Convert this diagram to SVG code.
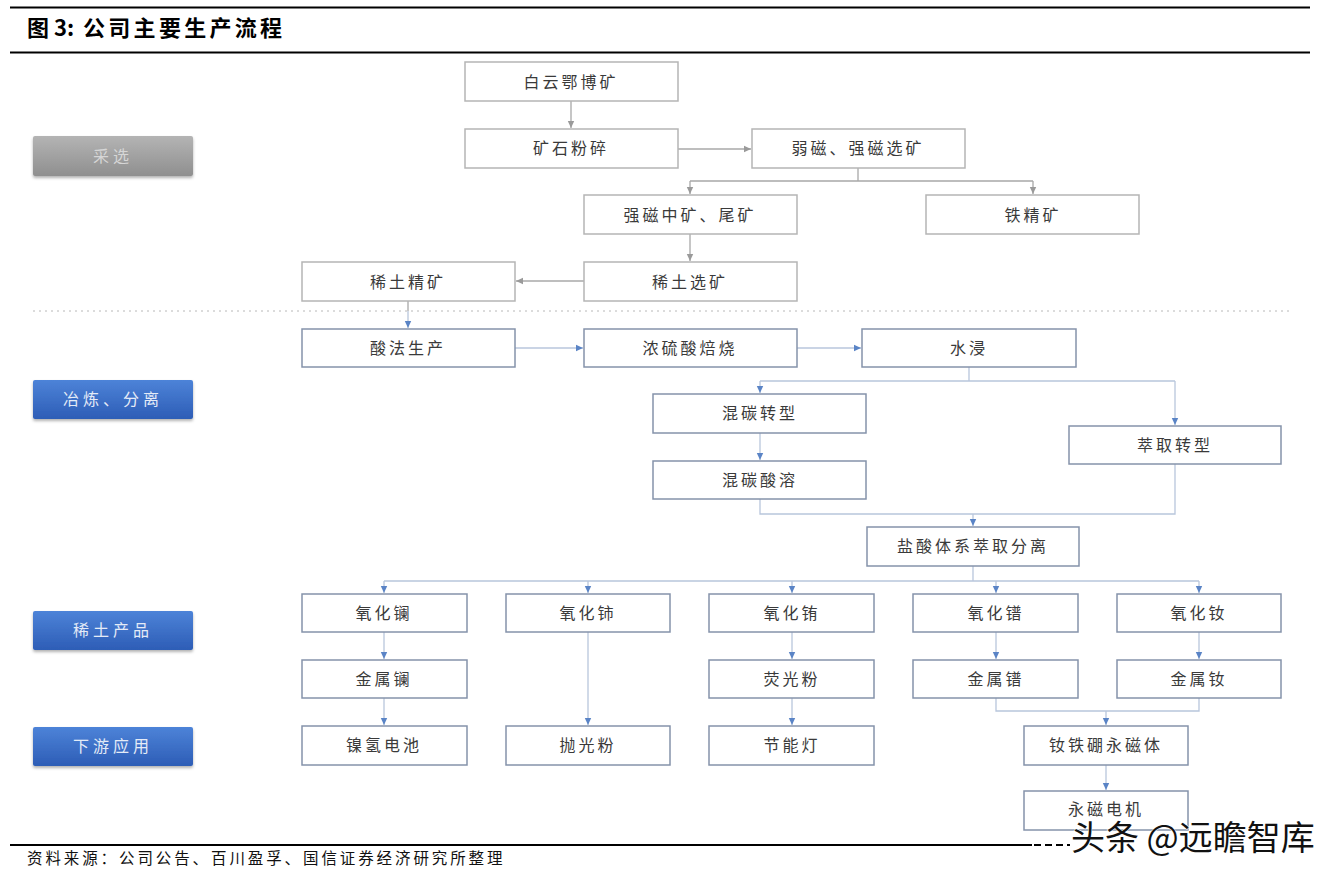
<svg xmlns="http://www.w3.org/2000/svg" width="1343" height="881" viewBox="0 0 1343 881">
<style>
.t{font-family:"Noto Sans CJK SC","Noto Sans",sans-serif;font-size:16px;fill:#3a3a3a;text-anchor:middle;letter-spacing:3px}
.bu{fill:#fff;stroke:#b5b5b5;stroke-width:1.5}
.bl{fill:#fff;stroke:#8593aa;stroke-width:1.5}
.cu{fill:none;stroke:#a8a8a8;stroke-width:1.3}
.cl{fill:none;stroke:#b8c6dc;stroke-width:1.3}
.lt{font-family:"Noto Sans CJK SC","Noto Sans",sans-serif;font-size:16px;fill:#e4ebf7;text-anchor:middle;letter-spacing:4px}
</style>
<defs>
<marker id="ag" markerWidth="8" markerHeight="8" refX="7" refY="4" orient="auto" markerUnits="userSpaceOnUse">
<path d="M0,0.8 L7,4 L0,7.2 z" fill="#9a9a9a"/>
</marker>
<marker id="ab" markerWidth="8" markerHeight="8" refX="7" refY="4" orient="auto" markerUnits="userSpaceOnUse">
<path d="M0,0.8 L7,4 L0,7.2 z" fill="#5a84c6"/>
</marker>
<linearGradient id="gb" x1="0" y1="0" x2="0" y2="1">
<stop offset="0" stop-color="#4d83d8"/>
<stop offset="1" stop-color="#2d5db6"/>
</linearGradient>
<linearGradient id="gg" x1="0" y1="0" x2="0" y2="1">
<stop offset="0" stop-color="#b4b4b4"/>
<stop offset="1" stop-color="#8f8f8f"/>
</linearGradient>
<filter id="sh" x="-10%" y="-20%" width="120%" height="150%">
<feDropShadow dx="0" dy="2" stdDeviation="1.5" flood-color="#000" flood-opacity="0.3"/>
</filter>
</defs>
<rect width="1343" height="881" fill="#fff"/>
<!-- header -->
<line x1="10" y1="7.5" x2="1310" y2="7.5" stroke="#000" stroke-width="2"/>
<text x="27" y="36" style="font-family:'Noto Sans CJK SC','Noto Sans',sans-serif;font-size:22px;font-weight:bold;fill:#000">图 3:<tspan x="83" style="letter-spacing:3.3px">公司主要生产流程</tspan></text>
<line x1="10" y1="52.5" x2="1310" y2="52.5" stroke="#000" stroke-width="2"/>
<!-- dotted separator -->
<line x1="33" y1="311" x2="1293" y2="311" stroke="#b8b8b8" stroke-width="1" stroke-dasharray="2,4"/>
<!-- left labels -->
<g id="label-caixuan"><rect x="33" y="136" width="160" height="40" rx="2" fill="url(#gg)" filter="url(#sh)"/><text class="lt" x="113" y="162" style="fill:#d6d6d6">采选</text></g>
<g id="label-yelian"><rect x="33" y="380" width="160" height="39" rx="2" fill="url(#gb)" filter="url(#sh)"/><text class="lt" x="113" y="405">冶炼、分离</text></g>
<g id="label-chanpin"><rect x="33" y="611" width="160" height="39" rx="2" fill="url(#gb)" filter="url(#sh)"/><text class="lt" x="113" y="636">稀土产品</text></g>
<g id="label-xiayou"><rect x="33" y="727" width="160" height="39" rx="2" fill="url(#gb)" filter="url(#sh)"/><text class="lt" x="113" y="752">下游应用</text></g>
<!-- connectors -->
<g id="connectors">
<path class="cu" d="M571,101 V128" marker-end="url(#ag)"/>
<path class="cu" d="M678,149 H751" marker-end="url(#ag)"/>
<path class="cu" d="M858,168 V181 M690,181 H1033"/>
<path class="cu" d="M690,181 V194" marker-end="url(#ag)"/>
<path class="cu" d="M1033,181 V194" marker-end="url(#ag)"/>
<path class="cu" d="M690,234 V261" marker-end="url(#ag)"/>
<path class="cu" d="M584,281 H516" marker-end="url(#ag)"/>
<path class="cu" d="M408,301 V311"/>
<path class="cl" d="M408,311 V328" marker-end="url(#ab)"/>
<path class="cl" d="M515,348 H583" marker-end="url(#ab)"/>
<path class="cl" d="M797,348 H861" marker-end="url(#ab)"/>
<path class="cl" d="M969,367 V381 M760,381 H1175"/>
<path class="cl" d="M760,381 V393" marker-end="url(#ab)"/>
<path class="cl" d="M1175,381 V425" marker-end="url(#ab)"/>
<path class="cl" d="M760,433 V460" marker-end="url(#ab)"/>
<path class="cl" d="M760,499 V514 H1175 V464"/>
<path class="cl" d="M973,514 V526" marker-end="url(#ab)"/>
<path class="cl" d="M973,566 V581 M384,581 H1199"/>
<path class="cl" d="M384,581 V593" marker-end="url(#ab)"/>
<path class="cl" d="M588,581 V593" marker-end="url(#ab)"/>
<path class="cl" d="M792,581 V593" marker-end="url(#ab)"/>
<path class="cl" d="M996,581 V593" marker-end="url(#ab)"/>
<path class="cl" d="M1199,581 V593" marker-end="url(#ab)"/>
<path class="cl" d="M384,632 V659" marker-end="url(#ab)"/>
<path class="cl" d="M384,698 V725" marker-end="url(#ab)"/>
<path class="cl" d="M588,632 V725" marker-end="url(#ab)"/>
<path class="cl" d="M792,632 V659" marker-end="url(#ab)"/>
<path class="cl" d="M792,698 V725" marker-end="url(#ab)"/>
<path class="cl" d="M996,632 V659" marker-end="url(#ab)"/>
<path class="cl" d="M1199,632 V659" marker-end="url(#ab)"/>
<path class="cl" d="M996,698 V711 H1199 V698"/>
<path class="cl" d="M1106,711 V725" marker-end="url(#ab)"/>
<path class="cl" d="M1106,765 V790" marker-end="url(#ab)"/>
</g>
<!-- upper nodes -->
<g id="n-baiyun"><rect class="bu" x="465" y="62" width="213" height="39"/><text class="t" x="571" y="88">白云鄂博矿</text></g>
<g id="n-suisui"><rect class="bu" x="465" y="129" width="213" height="39"/><text class="t" x="571" y="154">矿石粉碎</text></g>
<g id="n-ruoci"><rect class="bu" x="752" y="129" width="213" height="39"/><text class="t" x="858" y="154">弱磁、强磁选矿</text></g>
<g id="n-zhongkuang"><rect class="bu" x="584" y="195" width="213" height="39"/><text class="t" x="690" y="221">强磁中矿、尾矿</text></g>
<g id="n-tiejing"><rect class="bu" x="926" y="195" width="213" height="39"/><text class="t" x="1033" y="221">铁精矿</text></g>
<g id="n-xitujing"><rect class="bu" x="302" y="262" width="213" height="39"/><text class="t" x="408" y="288">稀土精矿</text></g>
<g id="n-xituxuan"><rect class="bu" x="584" y="262" width="213" height="39"/><text class="t" x="690" y="288">稀土选矿</text></g>
<!-- middle nodes -->
<g id="n-suanfa"><rect class="bl" x="302" y="329" width="213" height="38"/><text class="t" x="408" y="354">酸法生产</text></g>
<g id="n-beishao"><rect class="bl" x="584" y="329" width="213" height="38"/><text class="t" x="690" y="354">浓硫酸焙烧</text></g>
<g id="n-shuijin"><rect class="bl" x="862" y="329" width="214" height="38"/><text class="t" x="969" y="354">水浸</text></g>
<g id="n-hunzhuan"><rect class="bl" x="653" y="394" width="213" height="39"/><text class="t" x="760" y="419">混碳转型</text></g>
<g id="n-cuizhuan"><rect class="bl" x="1069" y="426" width="212" height="38"/><text class="t" x="1175" y="451">萃取转型</text></g>
<g id="n-hunsuan"><rect class="bl" x="653" y="461" width="213" height="38"/><text class="t" x="760" y="486">混碳酸溶</text></g>
<g id="n-yansuan"><rect class="bl" x="867" y="527" width="212" height="39"/><text class="t" x="973" y="552">盐酸体系萃取分离</text></g>
<!-- products -->
<g id="n-ylan"><rect class="bl" x="302" y="594" width="165" height="38"/><text class="t" x="384" y="619">氧化镧</text></g>
<g id="n-yshi"><rect class="bl" x="506" y="594" width="164" height="38"/><text class="t" x="588" y="619">氧化铈</text></g>
<g id="n-yyou"><rect class="bl" x="709" y="594" width="165" height="38"/><text class="t" x="792" y="619">氧化铕</text></g>
<g id="n-ypu"><rect class="bl" x="913" y="594" width="165" height="38"/><text class="t" x="996" y="619">氧化镨</text></g>
<g id="n-ynv"><rect class="bl" x="1117" y="594" width="164" height="38"/><text class="t" x="1199" y="619">氧化钕</text></g>
<g id="n-jlan"><rect class="bl" x="302" y="660" width="165" height="38"/><text class="t" x="384" y="685">金属镧</text></g>
<g id="n-yingguang"><rect class="bl" x="709" y="660" width="165" height="38"/><text class="t" x="792" y="685">荧光粉</text></g>
<g id="n-jpu"><rect class="bl" x="913" y="660" width="165" height="38"/><text class="t" x="996" y="685">金属镨</text></g>
<g id="n-jnv"><rect class="bl" x="1117" y="660" width="164" height="38"/><text class="t" x="1199" y="685">金属钕</text></g>
<!-- applications -->
<g id="n-niqing"><rect class="bl" x="302" y="726" width="165" height="39"/><text class="t" x="384" y="751">镍氢电池</text></g>
<g id="n-paoguang"><rect class="bl" x="506" y="726" width="164" height="39"/><text class="t" x="588" y="751">抛光粉</text></g>
<g id="n-jieneng"><rect class="bl" x="709" y="726" width="165" height="39"/><text class="t" x="792" y="751">节能灯</text></g>
<g id="n-ndfeb"><rect class="bl" x="1024" y="726" width="164" height="39"/><text class="t" x="1106" y="751">钕铁硼永磁体</text></g>
<g id="n-dianji"><rect class="bl" x="1024" y="791" width="164" height="39"/><text class="t" x="1106" y="815">永磁电机</text></g>
<!-- footer -->
<line x1="10" y1="845" x2="1032" y2="845" stroke="#000" stroke-width="2"/>
<line x1="1034" y1="845" x2="1070" y2="845" stroke="#000" stroke-width="2" stroke-dasharray="7,4"/>
<text x="27" y="864" style="font-family:'Noto Sans CJK SC','Noto Sans',sans-serif;font-size:15.5px;fill:#111;letter-spacing:2.9px">资料来源：公司公告、百川盈孚、国信证券经济研究所整理</text>
<text x="1071" y="850" style="font-family:'Noto Sans CJK SC','Noto Sans',sans-serif;font-size:34px;fill:#111;stroke:#fff;stroke-width:1;paint-order:stroke">头条 @远瞻智库</text>
</svg>
